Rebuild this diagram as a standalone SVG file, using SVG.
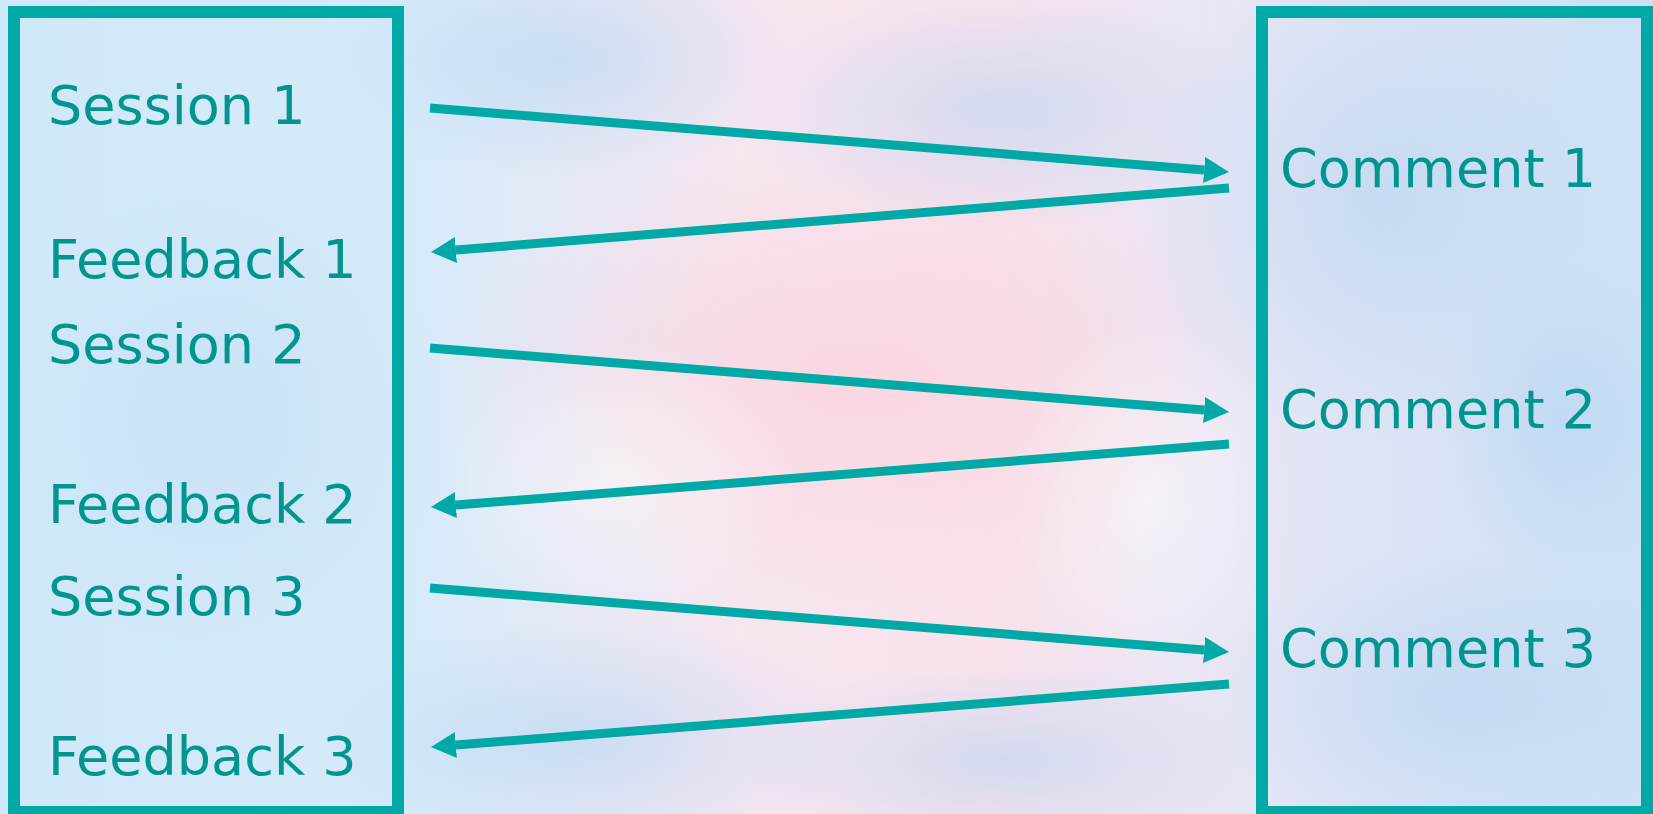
<svg xmlns="http://www.w3.org/2000/svg" width="1653" height="814" viewBox="0 0 1653 814">
<style>
.box{fill:none;stroke:#00a8a6;stroke-width:12}
.lbl{font-family:"DejaVu Sans","Verdana",sans-serif;font-size:54px;fill:#00968f}
.conn line{stroke:#00a8a6;stroke-width:9}
</style>
<defs>
<marker id="ah" markerUnits="userSpaceOnUse" markerWidth="30" markerHeight="30" viewBox="0 -15 30 30" refX="0" refY="0" orient="auto">
<path d="M0,-13 L25,0 L0,13 z" fill="#00a8a6"/>
</marker>
<linearGradient id="bg" x1="0" y1="0" x2="1" y2="0">
<stop offset="0" stop-color="#cfe8f9"/>
<stop offset="0.25" stop-color="#d6ebfa"/>
<stop offset="0.45" stop-color="#f6e6f0"/>
<stop offset="0.6" stop-color="#f9e2ec"/>
<stop offset="0.75" stop-color="#e6e6f5"/>
<stop offset="1" stop-color="#cbe0f6"/>
</linearGradient>
<radialGradient id="pink" cx="0.5" cy="0.5" r="0.5">
<stop offset="0" stop-color="#fbd3de" stop-opacity="0.8"/>
<stop offset="1" stop-color="#fbd3de" stop-opacity="0"/>
</radialGradient>
<radialGradient id="blue" cx="0.5" cy="0.5" r="0.5">
<stop offset="0" stop-color="#b3d3f2" stop-opacity="0.55"/>
<stop offset="1" stop-color="#b3d3f2" stop-opacity="0"/>
</radialGradient>
<radialGradient id="white" cx="0.5" cy="0.5" r="0.5">
<stop offset="0" stop-color="#ffffff" stop-opacity="0.5"/>
<stop offset="1" stop-color="#ffffff" stop-opacity="0"/>
</radialGradient>
</defs>
<g id="background">
<rect x="0" y="0" width="1653" height="814" fill="url(#bg)"/>
<ellipse cx="850" cy="380" rx="420" ry="230" fill="url(#pink)"/>
<ellipse cx="560" cy="60" rx="240" ry="120" fill="url(#blue)"/>
<ellipse cx="1000" cy="110" rx="260" ry="120" fill="url(#blue)"/>
<ellipse cx="580" cy="740" rx="280" ry="120" fill="url(#blue)"/>
<ellipse cx="1000" cy="760" rx="260" ry="100" fill="url(#blue)"/>
<ellipse cx="1380" cy="200" rx="240" ry="240" fill="url(#blue)"/>
<ellipse cx="1560" cy="420" rx="120" ry="160" fill="url(#blue)"/>
<ellipse cx="1450" cy="700" rx="240" ry="150" fill="url(#blue)"/>
<ellipse cx="230" cy="420" rx="220" ry="240" fill="url(#blue)" opacity="0.6"/>
<ellipse cx="620" cy="480" rx="180" ry="140" fill="url(#white)"/>
<ellipse cx="1150" cy="500" rx="140" ry="180" fill="url(#white)"/>
</g>
<g id="sessions">
<rect class="box" x="14" y="12" width="384" height="800"/>
</g>
<g id="comments">
<rect class="box" x="1262" y="12" width="385" height="800"/>
</g>
<g id="session1"><text class="lbl" x="48" y="124">Session 1</text></g>
<g id="feedback1"><text class="lbl" x="48" y="278">Feedback 1</text></g>
<g id="session2"><text class="lbl" x="48" y="363">Session 2</text></g>
<g id="feedback2"><text class="lbl" x="48" y="523">Feedback 2</text></g>
<g id="session3"><text class="lbl" x="48" y="615">Session 3</text></g>
<g id="feedback3"><text class="lbl" x="48" y="775">Feedback 3</text></g>
<g id="comment1"><text class="lbl" x="1280" y="187">Comment 1</text></g>
<g id="comment2"><text class="lbl" x="1280" y="428">Comment 2</text></g>
<g id="comment3"><text class="lbl" x="1280" y="667">Comment 3</text></g>
<g id="connectors" class="conn">
<line x1="430" y1="108" x2="1204.1" y2="170" marker-end="url(#ah)"/>
<line x1="1229" y1="188" x2="455.9" y2="250" marker-end="url(#ah)"/>
<line x1="430" y1="348" x2="1204.1" y2="410" marker-end="url(#ah)"/>
<line x1="1229" y1="444" x2="455.9" y2="505" marker-end="url(#ah)"/>
<line x1="430" y1="588" x2="1204.1" y2="650" marker-end="url(#ah)"/>
<line x1="1229" y1="684" x2="455.9" y2="745" marker-end="url(#ah)"/>
</g>
</svg>
